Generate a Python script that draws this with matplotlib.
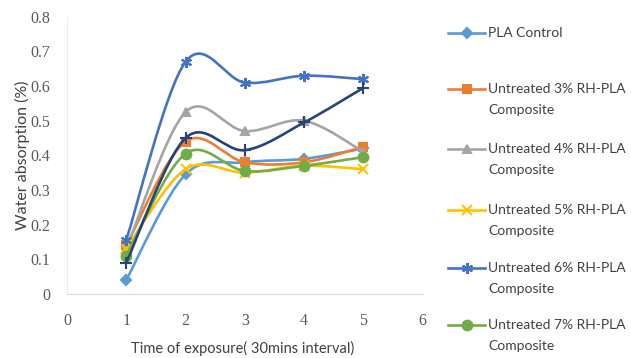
import numpy as np
import matplotlib.pyplot as plt
from matplotlib.path import Path
from matplotlib.patches import PathPatch
from matplotlib.lines import Line2D

# exposure steps (30 min interval)
time_steps = [1, 2, 3, 4, 5]

pla_control = [0.04, 0.345, 0.38, 0.39, 0.42]
untreated_3 = [0.14, 0.44, 0.38, 0.38, 0.425]
untreated_4 = [0.13, 0.525, 0.47, 0.50, 0.41]
untreated_5 = [0.13, 0.36, 0.35, 0.37, 0.36]
untreated_6 = [0.155, 0.67, 0.61, 0.63, 0.62]
untreated_7 = [0.11, 0.405, 0.355, 0.37, 0.395]
untreated_8 = [0.09, 0.45, 0.415, 0.495, 0.595]

labels = ["PLA Control",
          "Untreated 3% RH-PLA\nComposite",
          "Untreated 4% RH-PLA\nComposite",
          "Untreated 5% RH-PLA\nComposite",
          "Untreated 6% RH-PLA\nComposite",
          "Untreated 7% RH-PLA\nComposite"]

series = [pla_control, untreated_3, untreated_4, untreated_5,
          untreated_6, untreated_7, untreated_8]
colors = ["#5B9BD5", "#ED7D31", "#A5A5A5", "#FFC000",
          "#4472C4", "#70AD47", "#264478"]
markers = ["D", "s", "^", "x", (6, 2, 0), "o", "+"]
msizes = [5, 6, 6, 7, 8, 7, 8]

sans = ["Lato", "DejaVu Sans"]


def smooth_path(xs, ys):
    # Excel style smoothed line: cubic bezier with catmull-rom control points
    pts = np.column_stack([xs, ys]).astype(float)
    ext = np.vstack([pts[0], pts, pts[-1]])
    verts = [pts[0]]
    codes = [Path.MOVETO]
    for i in range(1, len(ext) - 2):
        p0, p1, p2, p3 = ext[i - 1], ext[i], ext[i + 1], ext[i + 2]
        c1 = p1 + (p2 - p0) / 6.0
        c2 = p2 - (p3 - p1) / 6.0
        verts += [c1, c2, p2]
        codes += [Path.CURVE4] * 3
    return Path(verts, codes)


fig = plt.figure(figsize=(6.31, 3.58), dpi=100)
ax = fig.add_axes([0.106, 0.179, 0.564, 0.774])

for i, (ys, c, m, ms) in enumerate(zip(series, colors, markers, msizes)):
    patch = PathPatch(smooth_path(time_steps, ys), facecolor="none",
                      edgecolor=c, lw=1.9, zorder=2 + i, capstyle="round")
    ax.add_patch(patch)
    ax.plot(time_steps, ys, linestyle="none", marker=m, color=c,
            markersize=ms, markeredgewidth=1.5, zorder=2 + i)

ax.set_xlim(0, 6)
ax.set_ylim(0, 0.8)
ax.set_xticks(range(0, 7))
ax.set_yticks(np.arange(0, 0.81, 0.1))
ax.set_yticklabels(["0"] + [f"{v:.1f}" for v in np.arange(0.1, 0.81, 0.1)])
for s in ["top", "right"]:
    ax.spines[s].set_visible(False)
ax.spines["bottom"].set_color("#D9D9D9")
ax.spines["left"].set_color("#EDEDED")
ax.tick_params(length=0, colors="#595959", labelsize=11.5)
ax.tick_params(axis="x", pad=14)
ax.tick_params(axis="y", pad=12)
for lab in ax.get_xticklabels() + ax.get_yticklabels():
    lab.set_family("Liberation Serif")

fig.text(0.035, 0.567, "Water absorption (%)", rotation=90, ha="center",
         va="center", fontsize=11.5, color="#404040", family=sans)
fig.text(243 / 631, 1 - 348 / 358, "Time of exposure( 30mins interval)",
         ha="center", va="center", fontsize=10.5, color="#404040",
         family=sans)

# legend drawn by hand next to the plot
px = 1 / 358
entry_y = [33, 89, 149, 210, 268, 325]
for lab, c, m, ms, ey in zip(labels, colors, markers, msizes, entry_y):
    y = 1 - ey * px
    fig.add_artist(Line2D([448 / 631, 485 / 631], [y, y], color=c, lw=1.9))
    fig.add_artist(Line2D([466.5 / 631], [y], color=c, marker=m,
                          markersize=ms, markeredgewidth=1.5))
    for k, line in enumerate(lab.split("\n")):
        fig.text(488 / 631, y - k * 21 * px, line, ha="left", va="center",
                 fontsize=10, color="#404040", family=sans)

fig.savefig("out.png", dpi=100, facecolor="white")
